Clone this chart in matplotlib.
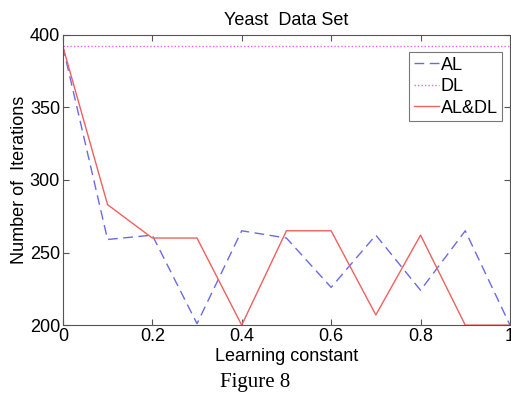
import matplotlib
matplotlib.use('Agg')
import matplotlib.pyplot as plt

learning_constant = [0.0, 0.1, 0.2, 0.3, 0.4, 0.5, 0.6, 0.7, 0.8, 0.9, 1.0]
al = [392, 259, 262, 201, 265, 260, 226, 262, 224, 265, 200]
dl = [392, 392, 392, 392, 392, 392, 392, 392, 392, 392, 392]
al_dl = [392, 283, 260, 260, 200, 265, 265, 207, 262, 200, 200]

plt.rcParams['font.family'] = ['Liberation Sans', 'DejaVu Sans']

fig = plt.figure(figsize=(5.11, 3.96), dpi=100)
ax = fig.add_axes([0.123, 0.179, 0.875, 0.733])

ax.plot(learning_constant, al, color='#6a6ae8', linestyle=(0, (7, 4)), linewidth=1.0, label='AL')
ax.plot(learning_constant, dl, color='#f060f0', linestyle=(0, (1, 1.5)), linewidth=1.0, label='DL')
ax.plot(learning_constant, al_dl, color='#f06060', linestyle='-', linewidth=1.0, label='AL&DL')

ax.set_xlim(0, 1)
ax.set_ylim(200, 400)
ax.set_xticks([0, 0.2, 0.4, 0.6, 0.8, 1])
ax.set_xticklabels(['0', '0.2', '0.4', '0.6', '0.8', '1'])
ax.set_yticks([200, 250, 300, 350, 400])
ax.tick_params(direction='in', top=True, right=True, labelsize=13, length=4, color='#555555', pad=2)
for s in ax.spines.values():
    s.set_color('#555555')

ax.set_title('Yeast  Data Set', fontsize=13, pad=7)
ax.set_xlabel('Learning constant', fontsize=13, labelpad=2)
ax.set_ylabel('Number of  Iterations', fontsize=13, labelpad=1)

leg = ax.legend(loc='upper right', bbox_to_anchor=(0.983, 0.94), fontsize=13, handlelength=1.4,
                handletextpad=0.1, borderpad=0.25, labelspacing=0.25, fancybox=False,
                edgecolor='#555555', borderaxespad=0.0)
leg.get_frame().set_linewidth(0.8)

fig.text(0.5, 0.022, 'Figure 8', ha='center', va='baseline', fontsize=15,
         family=['Liberation Serif', 'DejaVu Serif'])

fig.savefig('out.png', dpi=100)
